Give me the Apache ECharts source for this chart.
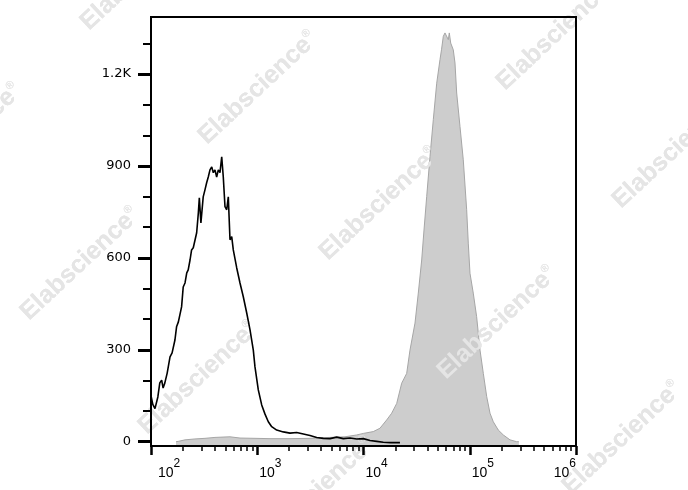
<!DOCTYPE html>
<html><head><meta charset="utf-8">
<script src="https://cdn.jsdelivr.net/npm/echarts@6/dist/echarts.min.js"></script>
<style>html,body{margin:0;padding:0;background:#fff}#c{width:688px;height:490px}</style>
</head><body><div id="c"></div>
<script>
// Control (black outline) histogram: fluorescence value, count
const controlX = [100,104,109,116,121,126,130,135,142,151,158,168,174,181,187,194,201,209,217,224,233,241,250,259,269,279,285,295,310,322,334,346,359,373,386,400,415,430,446,463,479,497,516,534,554,575,595,641,688,739,796,855,918,952,1023,1101,1183,1271,1368,1524,1758,2033,2350,2716,3136,3627,4184,4838,5595,6457,7464,8630,9956,11510,13310,15350,18000,22030];
const controlCount = [150,122,108,146,192,201,175,192,224,277,290,332,375,391,388,440,505,518,551,561,593,626,633,639,682,747,796,714,799,822,845,864,887,897,878,887,864,887,878,930,864,767,757,799,659,669,626,567,518,473,420,365,299,244,169,120,90,65,49,38,32,28,30,25,20,14,11,10,15,10,12,9,10,4,1,-2,-3,-3];
// Stained (grey filled) histogram: fluorescence value, count
const stainedX = [172,180,209,259,322,400,466,554,688,952,1318,2033,3136,4838,6692,8630,9956,12360,14290,16520,18420,20540,22880,25500,27390,30520,32790,35300,37110,39340,42260,45390,48870,52480,54200,56370,58480,60680,62810,64200,66180,69980,72620,75340,80910,86910,93540,96880,100500,107900,116100,124900,134200,144400,155100,166600,185700,206900,239300,276700,290000];
const stainedCount = [0,1,6,9,11,14,15,16,12,11,10,10,11,14,16,22,27,33,44,71,93,125,191,223,299,387,485,593,691,800,931,1051,1170,1247,1279,1323,1334,1336,1312,1334,1301,1279,1236,1138,1029,920,757,648,550,485,408,299,223,147,93,65,38,22,6,0,0];
// Axis ticks
const xMajorTicks = [100,1000,10000,100000,1000000];
const xMinorTicks = [200,300,400,500,600,700,800,900,2000,3000,4000,5000,6000,7000,8000,9000,20000,30000,40000,50000,60000,70000,80000,90000,200000,300000,400000,500000,600000,700000,800000,900000];
const yMajorTicks = [0,300,600,900,1200];
const yMajorLabels = ['0','300','600','900','1.2K'];
const yMinorTicks = [100,200,400,500,700,800,1000,1100,1300];
const watermarkText = 'Elabscience';

const chart = echarts.init(document.getElementById('c'), null, {renderer:'canvas'});

const wmPos = [[140,-26],[556,34],[258,88],[-38,140],[672,152],[379,204],[80,264],[497,323],[198,378],[622,438],[314,494]];
function watermarks(z, blend) {
  return wmPos.map(p => ({
    type: 'text', x: p[0], y: p[1], rotation: 43 * Math.PI / 180, z: z, silent: true,
    style: {
      text: '{a|' + watermarkText + '}{r|®}',
      rich: {
        a: {fontFamily: 'Liberation Sans', fontWeight: 'bold', fontSize: 25, fill: '#e5e5e5', color: '#e5e5e5'},
        r: {fontFamily: 'Liberation Sans', fontSize: 11, fill: '#e5e5e5', color: '#e5e5e5', verticalAlign: 'top'}
      },
      align: 'center', verticalAlign: 'middle', textAlign: 'center', textVerticalAlign: 'middle',
      blend: blend
    }
  }));
}

const yFmt = v => { const i = yMajorTicks.indexOf(v); return i >= 0 ? yMajorLabels[i] : ''; };
const xFmt = v => { const e = Math.round(Math.log10(v)); return '{' + (e === 2 ? 'b0' : 'b') + '|10}{s|' + e + '}'; };
const baseFont = {fontFamily: 'Liberation Sans', fontSize: 14, color: '#000', lineHeight: 14, verticalAlign: 'bottom'};

chart.setOption({
  animation: false,
  backgroundColor: '#fff',
  grid: {left: 151, right: 112, top: 17, bottom: 44, show: true, borderColor: '#000', borderWidth: 2, backgroundColor: 'transparent', z: 20},
  xAxis: [
    {type: 'log', logBase: 10, min: 100, max: 1000000, position: 'bottom', z: 20,
     axisLine: {show: true, onZero: false, lineStyle: {color: '#000', width: 2}},
     axisTick: {show: true, length: 9, customValues: xMajorTicks, lineStyle: {color: '#000', width: 2.5}},
     axisLabel: {show: true, customValues: xMajorTicks, margin: 12, align: 'left', alignMaxLabel: 'right',
       formatter: xFmt,
       rich: {
         b: Object.assign({}, baseFont, {padding: [0,0,0,2]}),
         b0: Object.assign({}, baseFont, {padding: [0,0,0,7]}),
         s: {fontFamily: 'Liberation Sans', fontSize: 12, color: '#000', padding: [0,0,10,0], verticalAlign: 'top'}
       }},
     splitLine: {show: false}, minorTick: {show: false}},
    {type: 'log', logBase: 10, min: 100, max: 1000000, position: 'top', offset: -429, z: 20,
     axisLine: {show: false, onZero: false},
     axisTick: {show: true, inside: true, length: 5, customValues: xMinorTicks, lineStyle: {color: '#000', width: 1.5}},
     axisLabel: {show: false}, splitLine: {show: false}}
  ],
  yAxis: [
    {type: 'value', min: -14, max: 1386, position: 'left', z: 20,
     axisLine: {show: true, onZero: false, lineStyle: {color: '#000', width: 2}},
     axisTick: {show: true, length: 13, customValues: yMajorTicks, lineStyle: {color: '#000', width: 3}},
     axisLabel: {show: true, customValues: yMajorTicks, margin: 20, fontFamily: 'DejaVu Sans', fontSize: 13, color: '#000', formatter: yFmt, padding: [0,0,3,0]},
     splitLine: {show: false}},
    {type: 'value', min: -14, max: 1386, position: 'right', offset: -425, z: 20,
     axisLine: {show: false, onZero: false},
     axisTick: {show: true, inside: true, length: 8, customValues: yMinorTicks, lineStyle: {color: '#000', width: 2}},
     axisLabel: {show: false}, splitLine: {show: false}}
  ],
  series: [
    {type: 'line', name: 'Stained', xAxisIndex: 0, yAxisIndex: 0, z: 2, silent: true,
     data: stainedX.map((x, i) => [x, stainedCount[i]]),
     symbol: 'none', showSymbol: false,
     lineStyle: {color: '#a6a6a6', width: 1},
     areaStyle: {color: '#cdcdcd', opacity: 1, origin: 'start'}},
    {type: 'line', name: 'Control', xAxisIndex: 0, yAxisIndex: 0, z: 10, silent: true,
     data: controlX.map((x, i) => [x, controlCount[i]]),
     symbol: 'none', showSymbol: false,
     lineStyle: {color: '#000', width: 1.6}}
  ],
  graphic: {elements: watermarks(-1, 'source-over').concat(watermarks(5, 'lighten'))}
});
</script>
</body></html>
